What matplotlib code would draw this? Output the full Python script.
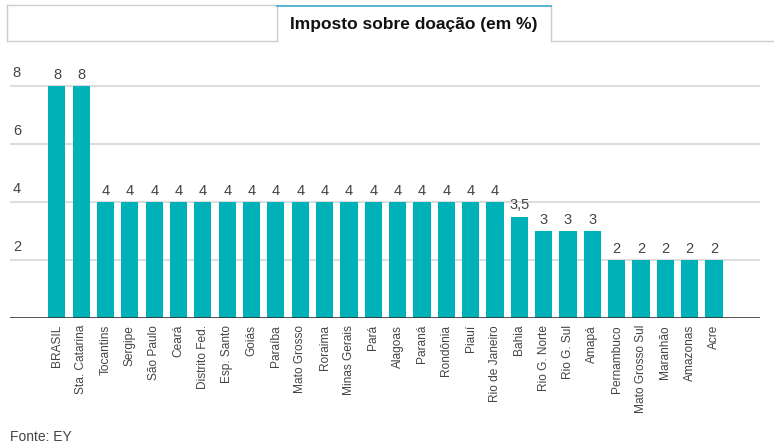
import matplotlib
matplotlib.use("Agg")
import matplotlib.pyplot as plt
from matplotlib.lines import Line2D

plt.rcParams['font.family'] = ['Liberation Sans', 'DejaVu Sans']

states = ["BRASIL", "Sta. Catarina", "Tocantins", "Sergipe", "São Paulo", "Ceará",
          "Distrito Fed.", "Esp. Santo", "Goiás", "Paraíba", "Mato Grosso", "Roraima",
          "Minas Gerais", "Pará", "Alagoas", "Paraná", "Rondônia", "Piauí",
          "Rio de Janeiro", "Bahia", "Rio G. Norte", "Rio G. Sul", "Amapá",
          "Pernambuco", "Mato Grosso Sul", "Maranhão", "Amazonas", "Acre"]
values = [8, 8, 4, 4, 4, 4, 4, 4, 4, 4, 4, 4, 4, 4, 4, 4, 4, 4, 4, 3.5, 3, 3, 3,
          2, 2, 2, 2, 2]
yticks = [2, 4, 6, 8]
title = "Imposto sobre doação (em %)"
source = "Fonte: EY"

W, H = 774, 447
fig = plt.figure(figsize=(W / 100, H / 100), dpi=100)

def fx(x):
    return x / W

def fy(y):
    return 1 - y / H

ax_left, ax_right = 10, 760
y0, y8 = 318, 86
ppu = (y0 - y8) / 8.0
ytop = 8.6
ax = fig.add_axes([fx(ax_left), fy(y0), fx(ax_right - ax_left), (ytop * ppu) / H])

bar_color = "#00B2B8"
x = list(range(len(states)))
ax.bar(x, values, width=0.7, color=bar_color, zorder=3)
ax.set_xlim(-1.93, 28.89)
ax.set_ylim(0, ytop)

for t in yticks:
    ax.axhline(t, color="#dddddd", lw=1.5, zorder=1)
    ax.annotate(str(t), xy=(0, t), xycoords=('axes fraction', 'data'),
                xytext=(2, 4), textcoords='offset points', ha='left', va='bottom',
                fontsize=10.5, color="#444444")
ax.axhline(0, color="#333333", lw=1.2, zorder=4)

for xi, v in zip(x, values):
    lab = (f"{v:g}").replace(".", ",")
    ax.annotate(lab, xy=(xi, v), xytext=(0, 3), textcoords='offset points',
                ha='center', va='bottom', fontsize=10.5, color="#444444",
                annotation_clip=False)

ax.set_xticks(x)
ax.set_xticklabels(states, rotation=90, fontsize=8.6, color="#444444")
ax.tick_params(axis='x', length=0, pad=5)
ax.set_yticks([])
for s in ax.spines.values():
    s.set_visible(False)

# Tab header
grey = "#cccccc"
fig.add_artist(Line2D([fx(7), fx(277)], [fy(5), fy(5)], color=grey, lw=1))
fig.add_artist(Line2D([fx(7), fx(7)], [fy(5), fy(41)], color=grey, lw=1))
fig.add_artist(Line2D([fx(7), fx(277)], [fy(41), fy(41)], color=grey, lw=1))
fig.add_artist(Line2D([fx(277), fx(277)], [fy(5), fy(41)], color=grey, lw=1))
fig.add_artist(Line2D([fx(551), fx(551)], [fy(5), fy(41)], color=grey, lw=1))
fig.add_artist(Line2D([fx(551), fx(774)], [fy(41), fy(41)], color=grey, lw=1))
fig.add_artist(Line2D([fx(277), fx(551)], [fy(5.5), fy(5.5)], color="#3aa8cc", lw=1.2))
fig.text(fx(414), fy(24), title, ha='center', va='center', fontsize=12.5,
         fontweight='bold', color="#111111")

fig.text(fx(10), fy(437), source, ha='left', va='center', fontsize=10,
         color="#444444")

fig.savefig("out.png", dpi=100)
